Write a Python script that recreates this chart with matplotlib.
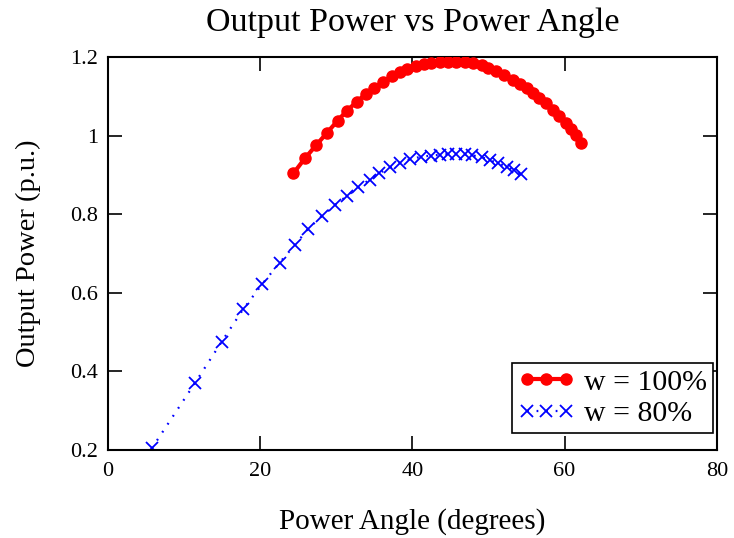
import matplotlib
matplotlib.use("Agg")
import matplotlib.pyplot as plt

plt.rcParams['font.family'] = ['Liberation Serif', 'DejaVu Serif']
plt.rcParams['mathtext.fontset'] = 'stix'

# Data
red_x = [24.4, 25.9, 27.4, 28.8, 30.2, 31.4, 32.7, 33.9, 35.0, 36.2, 37.3, 38.4, 39.3,
         40.5, 41.5, 42.5, 43.6, 44.7, 45.8, 46.9, 48.0, 49.1, 50.0, 51.0, 52.1, 53.2,
         54.1, 55.0, 55.8, 56.7, 57.6, 58.5, 59.3, 60.2, 60.8, 61.5, 62.2]
red_y = [0.904, 0.942, 0.976, 1.007, 1.038, 1.063, 1.086, 1.106, 1.122, 1.137, 1.151,
         1.162, 1.170, 1.177, 1.182, 1.185, 1.187, 1.188, 1.188, 1.187, 1.184, 1.179,
         1.173, 1.165, 1.154, 1.142, 1.132, 1.122, 1.109, 1.095, 1.082, 1.066, 1.050,
         1.033, 1.018, 1.001, 0.982]

blue_x = [5.8, 11.5, 15.0, 17.8, 20.3, 22.6, 24.6, 26.3, 28.1, 29.8, 31.4, 32.9, 34.4,
          35.7, 37.1, 38.4, 39.7, 41.1, 42.4, 43.6, 44.7, 45.8, 46.9, 47.9, 49.1, 50.2,
          51.2, 52.4, 53.3, 54.3]
blue_y = [0.204, 0.371, 0.476, 0.558, 0.622, 0.677, 0.722, 0.762, 0.795, 0.823, 0.846,
          0.868, 0.888, 0.905, 0.919, 0.931, 0.940, 0.946, 0.949, 0.951, 0.953, 0.953,
          0.952, 0.950, 0.945, 0.938, 0.930, 0.921, 0.912, 0.903]

series_labels = ["w = 100%", "w = 80%"]
x_ticks = [0, 20, 40, 60, 80]
y_ticks = [0.2, 0.4, 0.6, 0.8, 1.0, 1.2]
y_tick_labels = ["0.2", "0.4", "0.6", "0.8", "1", "1.2"]

fig = plt.figure(figsize=(7.34, 5.38), dpi=100)
ax = fig.add_axes([0.1465, 0.1636, 0.8303, 0.7304])

ax.plot(red_x, red_y, color='#ff0000', lw=3, marker='o', ms=8,
        label=series_labels[0], zorder=3)
ax.plot(blue_x, blue_y, color='#0000ff', lw=1.6, ls=(0, (0.8, 3.5)), marker='x', ms=9,
        mew=1.3, label=series_labels[1], zorder=2)

ax.set_xlim(0, 80)
ax.set_ylim(0.2, 1.2)
ax.set_xticks(x_ticks)
ax.set_xticklabels([str(t) for t in x_ticks])
ax.set_yticks(y_ticks)
ax.set_yticklabels(y_tick_labels)
ax.tick_params(direction='in', length=10, width=1.2, top=True, right=True,
               labelsize=16, pad=7)
ax.tick_params(axis='x', pad=9)
for s in ax.spines.values():
    s.set_linewidth(1.5)
    s.set_color('black')

ax.set_title("Output Power vs Power Angle", fontsize=24.5, pad=19)
ax.set_xlabel("Power Angle (degrees)", fontsize=21, labelpad=19)
ax.set_ylabel("Output Power (p.u.)", fontsize=20.5, labelpad=21)

leg = ax.legend(loc='lower right', bbox_to_anchor=(0.993, 0.043), fontsize=21.5,
                numpoints=3, frameon=True, fancybox=False, edgecolor='black',
                framealpha=1, borderpad=0.2, handlelength=1.9, handletextpad=0.3,
                labelspacing=0.15, borderaxespad=0.0)
leg.get_frame().set_linewidth(1.2)

fig.savefig("out.png", dpi=100)
